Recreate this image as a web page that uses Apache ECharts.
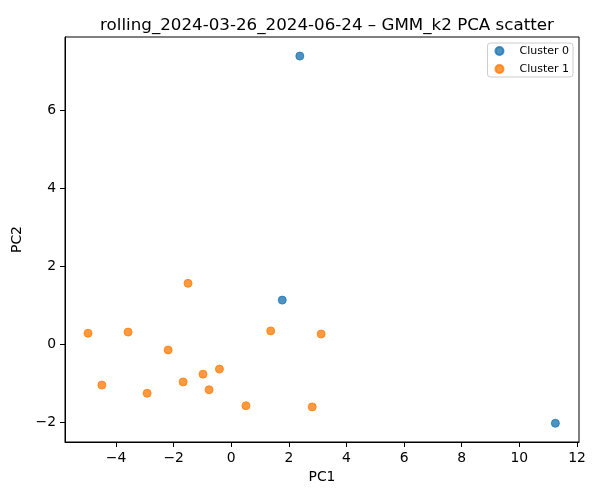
<!DOCTYPE html>
<html>
<head>
    <meta http-equiv=Content-Type content="text/html; charset=utf-8">
    <title>GMM_k2 PCA scatter</title>
    <script type="text/javascript" src="https://cdn.jsdelivr.net/npm/echarts@6/dist/echarts.min.js"></script>
    <style>
        html, body { margin: 0; padding: 0; background: #fff; }
    </style>
</head>
<body>
<div id="chartmain" style="width:600px; height:500px;"></div>

<script type="text/javascript">
    // 数据 (PC1, PC2)
    var cluster0 = [
        [2.38, 7.39],
        [1.77, 1.13],
        [11.25, -2.03]
    ];
    var cluster1 = [
        [-1.50, 1.56],
        [-4.97, 0.28],
        [-3.58, 0.31],
        [1.37, 0.34],
        [3.12, 0.26],
        [-2.19, -0.15],
        [-0.41, -0.64],
        [-0.98, -0.77],
        [-1.67, -0.97],
        [-4.49, -1.05],
        [-0.77, -1.17],
        [-2.92, -1.26],
        [0.51, -1.58],
        [2.81, -1.61]
    ];
    var seriesNames = ['Cluster 0', 'Cluster 1'];
    var xTicks = [-4, -2, 0, 2, 4, 6, 8, 10, 12];
    var yTicks = [-2, 0, 2, 4, 6];

    var font = 'DejaVu Sans';

    function fmt(v) {
        return v < 0 ? '\u2212' + Math.abs(v) : String(v);
    }

    var myChart = echarts.init(document.getElementById('chartmain'));

    var option = {
        animation: false,
        backgroundColor: '#fff',
        title: {
            text: 'rolling_2024-03-26_2024-06-24 \u2013 GMM_k2 PCA scatter',
            left: 322,
            textAlign: 'center',
            top: 12,
            textStyle: {
                fontFamily: font,
                fontSize: 16.7,
                fontWeight: 'normal',
                color: '#000'
            }
        },
        legend: {
            data: seriesNames,
            orient: 'vertical',
            right: 27,
            top: 43,
            icon: 'circle',
            itemWidth: 22,
            itemHeight: 8,
            itemGap: 6,
            padding: [2, 4, 2, 7],
            borderColor: '#cccccc',
            borderWidth: 1,
            borderRadius: 3,
            textStyle: {
                fontFamily: font,
                fontSize: 11,
                lineHeight: 12,
                color: '#000',
                padding: [0, 0, 0, 4]
            }
        },
        grid: {
            left: 65,
            right: 21,
            top: 37,
            bottom: 58,
            show: true,
            borderColor: '#000',
            borderWidth: 1,
            outerBoundsMode: 'none'
        },
        xAxis: {
            type: 'value',
            min: -5.77,
            max: 12.07,
            name: 'PC1',
            nameLocation: 'middle',
            nameGap: 28,
            nameTextStyle: { fontFamily: font, fontSize: 13.9, color: '#000' },
            axisLine: { show: true, onZero: false, lineStyle: { color: '#000', width: 1 } },
            axisTick: { show: true, length: 5, customValues: xTicks, lineStyle: { color: '#000' } },
            axisLabel: {
                customValues: xTicks,
                formatter: fmt,
                margin: 9,
                fontFamily: font,
                fontSize: 13.9,
                color: '#000'
            },
            splitLine: { show: false }
        },
        yAxis: {
            type: 'value',
            min: -2.51,
            max: 7.88,
            name: 'PC2',
            nameLocation: 'middle',
            nameGap: 38,
            nameRotate: 90,
            nameTextStyle: { fontFamily: font, fontSize: 13.9, color: '#000' },
            axisLine: { show: true, onZero: false, lineStyle: { color: '#000', width: 1 } },
            axisTick: { show: true, length: 5, customValues: yTicks, lineStyle: { color: '#000' } },
            axisLabel: {
                customValues: yTicks,
                formatter: fmt,
                margin: 9,
                fontFamily: font,
                fontSize: 13.9,
                color: '#000'
            },
            splitLine: { show: false }
        },
        series: [
            {
                name: seriesNames[0],
                type: 'scatter',
                data: cluster0,
                symbolSize: 8,
                itemStyle: {
                    color: '#1f77b4',
                    opacity: 0.8,
                    borderColor: '#1f77b4',
                    borderWidth: 1
                }
            },
            {
                name: seriesNames[1],
                type: 'scatter',
                data: cluster1,
                symbolSize: 8,
                itemStyle: {
                    color: '#ff7f0e',
                    opacity: 0.8,
                    borderColor: '#ff7f0e',
                    borderWidth: 1
                }
            }
        ]
    };

    myChart.setOption(option);
</script>
</body>
</html>
